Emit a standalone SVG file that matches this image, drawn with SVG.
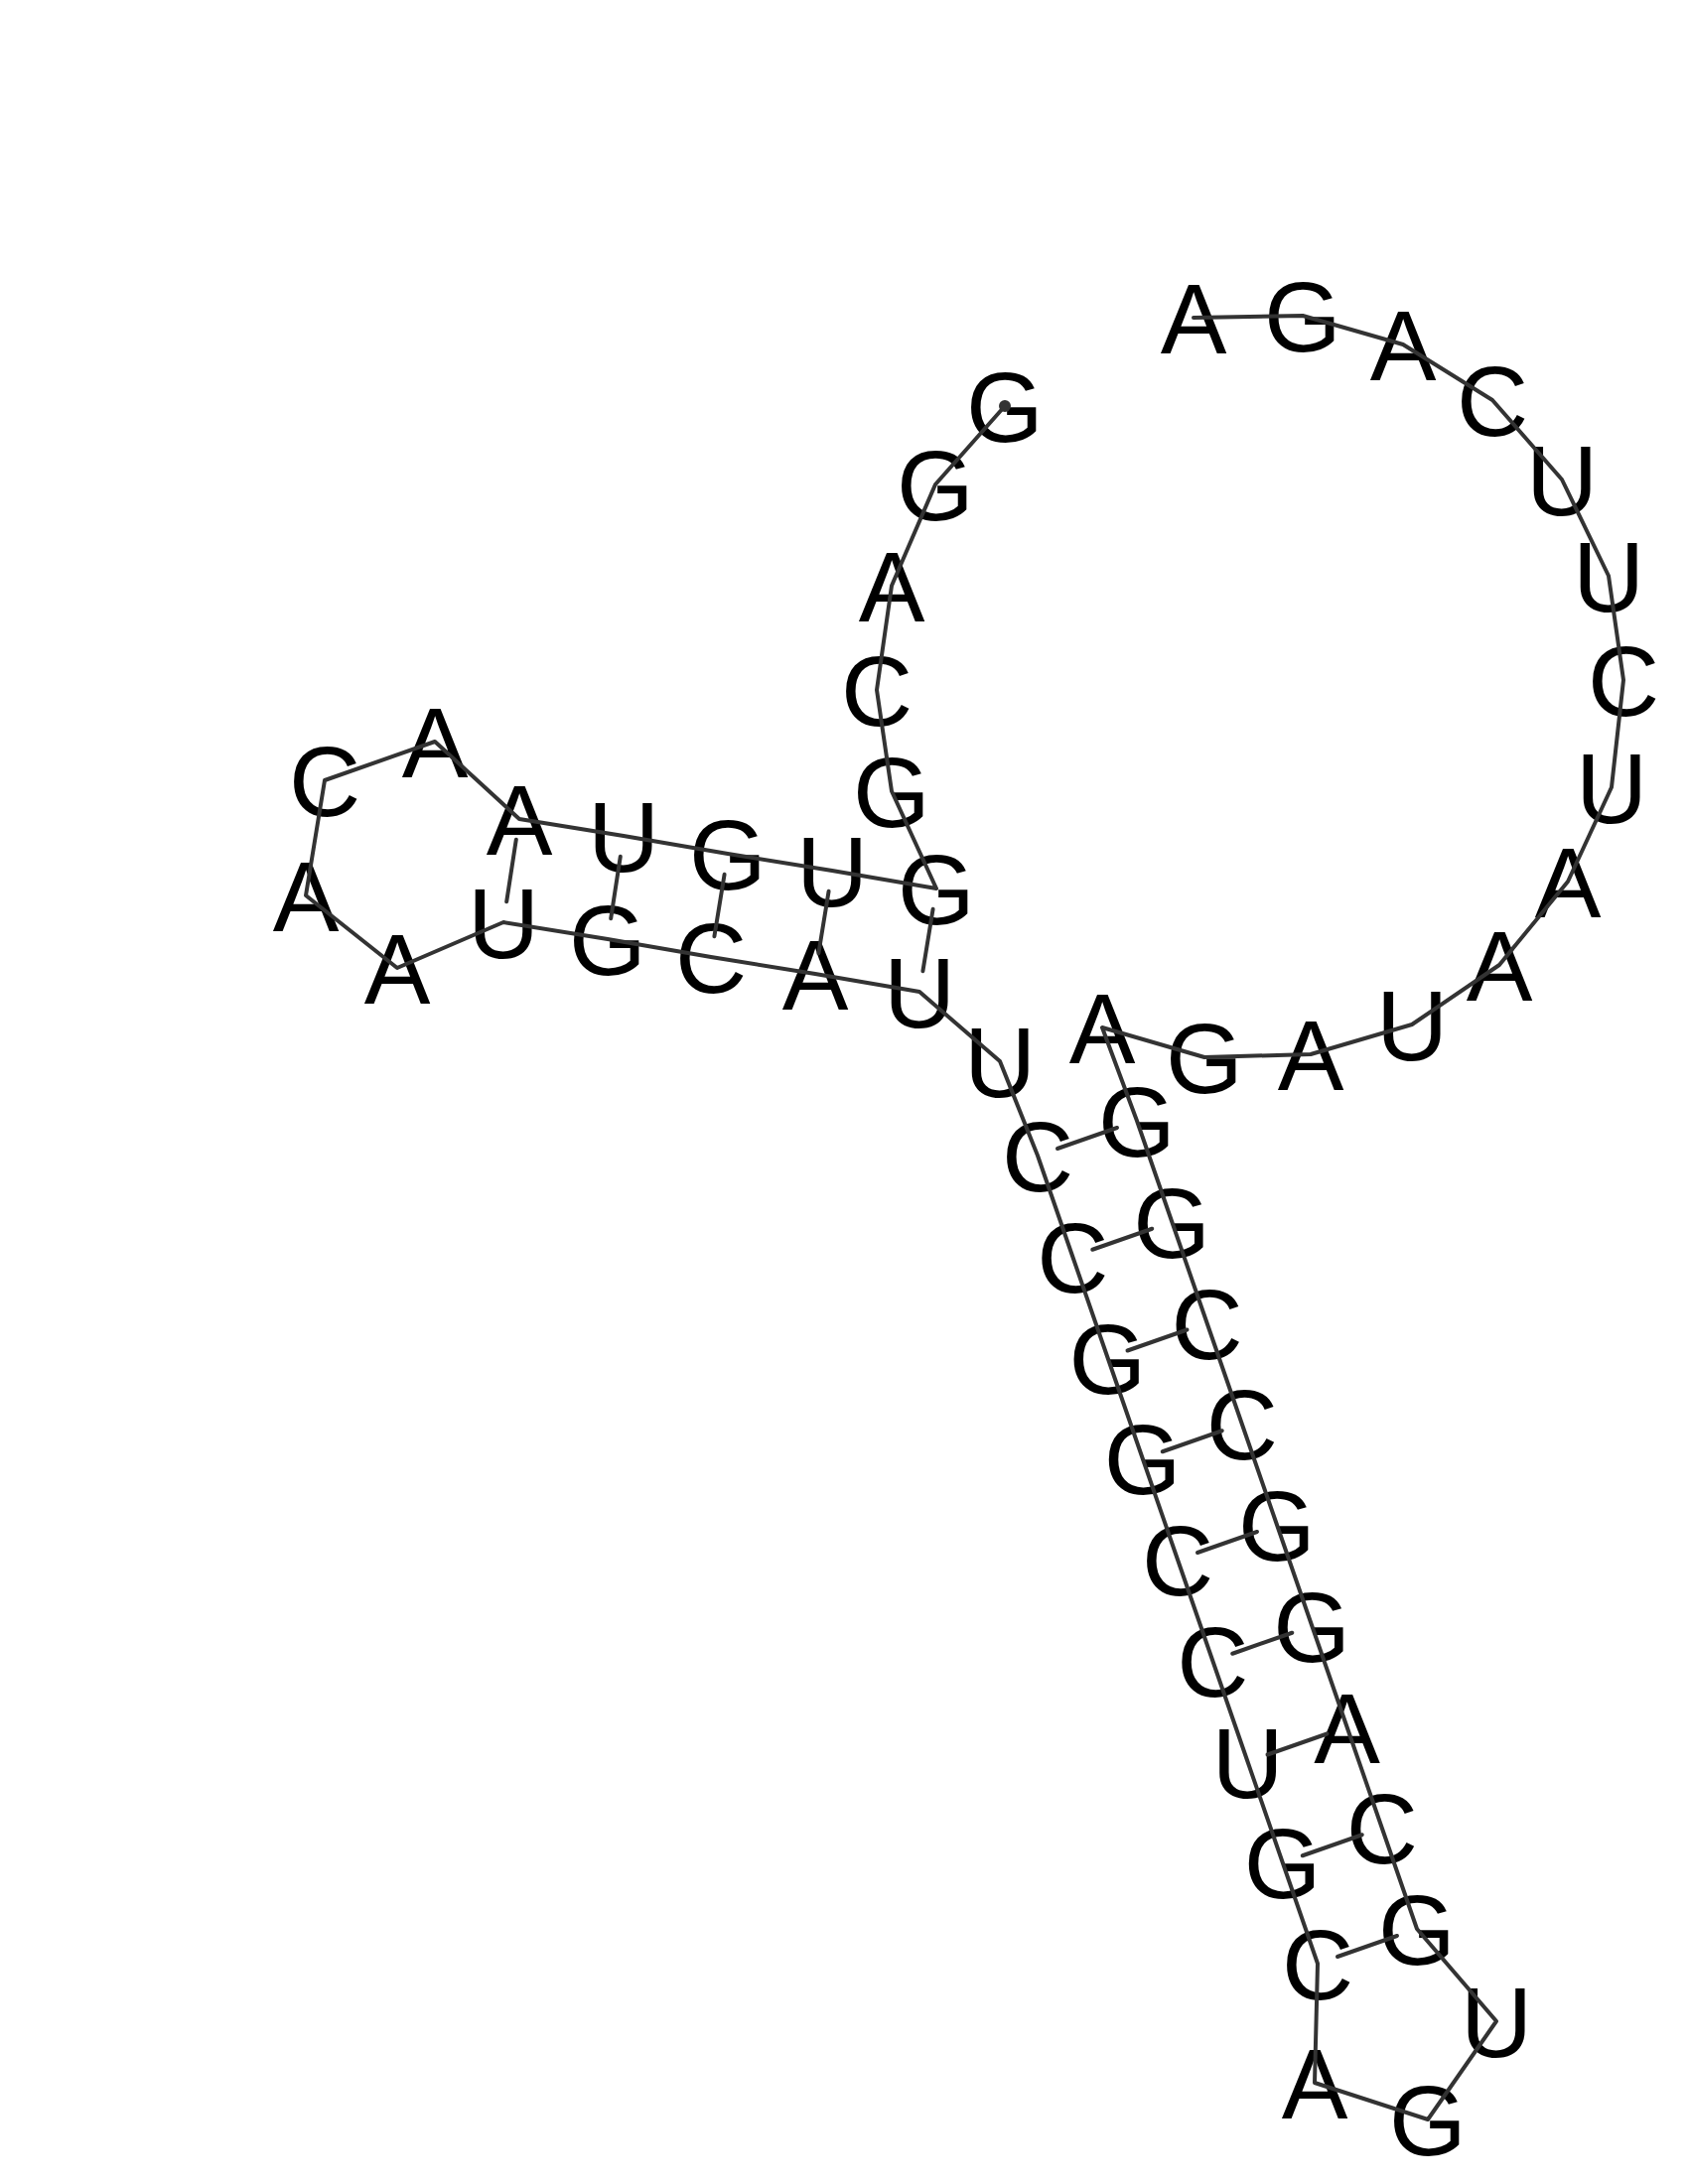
<svg xmlns="http://www.w3.org/2000/svg" width="1700" height="2200" viewBox="0 0 1700 2200">
<style>
.nt{font-family:"Liberation Sans",Arial,Helvetica,sans-serif;font-size:100px;fill:#000;text-anchor:middle}
.bb{fill:none;stroke:#333;stroke-width:4;stroke-linejoin:round;stroke-linecap:round}
.bp{stroke:#333;stroke-width:4;stroke-linecap:round}
</style>
<rect width="1700" height="2200" fill="#fff"/>
<g id="nodes">
<g id="n1"><text class="nt" x="1012" y="445">G</text></g>
<g id="n2"><text class="nt" x="942" y="524">G</text></g>
<g id="n3"><text class="nt" x="898" y="626">A</text></g>
<g id="n4"><text class="nt" x="883" y="731">C</text></g>
<g id="n5"><text class="nt" x="898" y="833">G</text></g>
<g id="n6"><text class="nt" x="943" y="931">G</text></g>
<g id="n7"><text class="nt" x="838" y="913">U</text></g>
<g id="n8"><text class="nt" x="733" y="896">G</text></g>
<g id="n9"><text class="nt" x="628" y="878">U</text></g>
<g id="n10"><text class="nt" x="523" y="861">A</text></g>
<g id="n11"><text class="nt" x="438" y="783">A</text></g>
<g id="n12"><text class="nt" x="327" y="822">C</text></g>
<g id="n13"><text class="nt" x="308" y="938">A</text></g>
<g id="n14"><text class="nt" x="400" y="1011">A</text></g>
<g id="n15"><text class="nt" x="507" y="965">U</text></g>
<g id="n16"><text class="nt" x="612" y="982">G</text></g>
<g id="n17"><text class="nt" x="716" y="1000">C</text></g>
<g id="n18"><text class="nt" x="821" y="1017">A</text></g>
<g id="n19"><text class="nt" x="926" y="1035">U</text></g>
<g id="n20"><text class="nt" x="1007" y="1105">U</text></g>
<g id="n21"><text class="nt" x="1045" y="1200">C</text></g>
<g id="n22"><text class="nt" x="1080.25" y="1301.75">C</text></g>
<g id="n23"><text class="nt" x="1115.5" y="1403.5">G</text></g>
<g id="n24"><text class="nt" x="1150.75" y="1505.25">G</text></g>
<g id="n25"><text class="nt" x="1186" y="1607">C</text></g>
<g id="n26"><text class="nt" x="1221.25" y="1708.75">C</text></g>
<g id="n27"><text class="nt" x="1256.5" y="1810.5">U</text></g>
<g id="n28"><text class="nt" x="1291.75" y="1912.25">G</text></g>
<g id="n29"><text class="nt" x="1327" y="2014">C</text></g>
<g id="n30"><text class="nt" x="1324" y="2134">A</text></g>
<g id="n31"><text class="nt" x="1438" y="2171">G</text></g>
<g id="n32"><text class="nt" x="1507" y="2072">U</text></g>
<g id="n33"><text class="nt" x="1427" y="1979">G</text></g>
<g id="n34"><text class="nt" x="1391.75" y="1877.25">C</text></g>
<g id="n35"><text class="nt" x="1356.5" y="1775.5">A</text></g>
<g id="n36"><text class="nt" x="1321.25" y="1673.75">G</text></g>
<g id="n37"><text class="nt" x="1286" y="1572">G</text></g>
<g id="n38"><text class="nt" x="1250.75" y="1470.25">C</text></g>
<g id="n39"><text class="nt" x="1215.5" y="1368.5">C</text></g>
<g id="n40"><text class="nt" x="1180.25" y="1266.75">G</text></g>
<g id="n41"><text class="nt" x="1145" y="1165">G</text></g>
<g id="n42"><text class="nt" x="1110" y="1071">A</text></g>
<g id="n43"><text class="nt" x="1213" y="1101">G</text></g>
<g id="n44"><text class="nt" x="1320" y="1098">A</text></g>
<g id="n45"><text class="nt" x="1422" y="1068">U</text></g>
<g id="n46"><text class="nt" x="1510" y="1008">A</text></g>
<g id="n47"><text class="nt" x="1579" y="924">A</text></g>
<g id="n48"><text class="nt" x="1623" y="829">U</text></g>
<g id="n49"><text class="nt" x="1635" y="721">C</text></g>
<g id="n50"><text class="nt" x="1620" y="616">U</text></g>
<g id="n51"><text class="nt" x="1573" y="519">U</text></g>
<g id="n52"><text class="nt" x="1503" y="439">C</text></g>
<g id="n53"><text class="nt" x="1413" y="383">A</text></g>
<g id="n54"><text class="nt" x="1312" y="354">G</text></g>
<g id="n55"><text class="nt" x="1202" y="356">A</text></g>
</g>
<g id="connectors">
<polyline class="bb" points="1012,409 942,488 898,590 883,695 898,797 943,895 838,877 733,860 628,842 523,825 438,747 327,786 308,902 400,975 507,929 612,946 716,964 821,981 926,999 1007,1069 1045,1164 1080.25,1265.75 1115.5,1367.5 1150.75,1469.25 1186,1571 1221.25,1672.75 1256.5,1774.5 1291.75,1876.25 1327,1978 1324,2098 1438,2135 1507,2036 1427,1943 1391.75,1841.25 1356.5,1739.5 1321.25,1637.75 1286,1536 1250.75,1434.25 1215.5,1332.5 1180.25,1230.75 1145,1129 1110,1035 1213,1065 1320,1062 1422,1032 1510,972 1579,888 1623,793 1635,685 1620,580 1573,483 1503,403 1413,347 1312,318 1202,320"/>
<circle cx="1012" cy="409" r="6" fill="#333"/>
<line class="bp" x1="519.8" y1="845.8" x2="510.2" y2="908.2"/>
<line class="bp" x1="624.8" y1="862.8" x2="615.2" y2="925.2"/>
<line class="bp" x1="729.6" y1="880.8" x2="719.4" y2="943.2"/>
<line class="bp" x1="834.6" y1="897.8" x2="824.4" y2="960.2"/>
<line class="bp" x1="939.6" y1="915.8" x2="929.4" y2="978.2"/>
<line class="bp" x1="1065" y1="1157" x2="1125" y2="1136"/>
<line class="bp" x1="1100.25" y1="1258.75" x2="1160.25" y2="1237.75"/>
<line class="bp" x1="1135.5" y1="1360.5" x2="1195.5" y2="1339.5"/>
<line class="bp" x1="1170.75" y1="1462.25" x2="1230.75" y2="1441.25"/>
<line class="bp" x1="1206" y1="1564" x2="1266" y2="1543"/>
<line class="bp" x1="1241.25" y1="1665.75" x2="1301.25" y2="1644.75"/>
<line class="bp" x1="1276.5" y1="1767.5" x2="1336.5" y2="1746.5"/>
<line class="bp" x1="1311.75" y1="1869.25" x2="1371.75" y2="1848.25"/>
<line class="bp" x1="1347" y1="1971" x2="1407" y2="1950"/>
</g>
</svg>
